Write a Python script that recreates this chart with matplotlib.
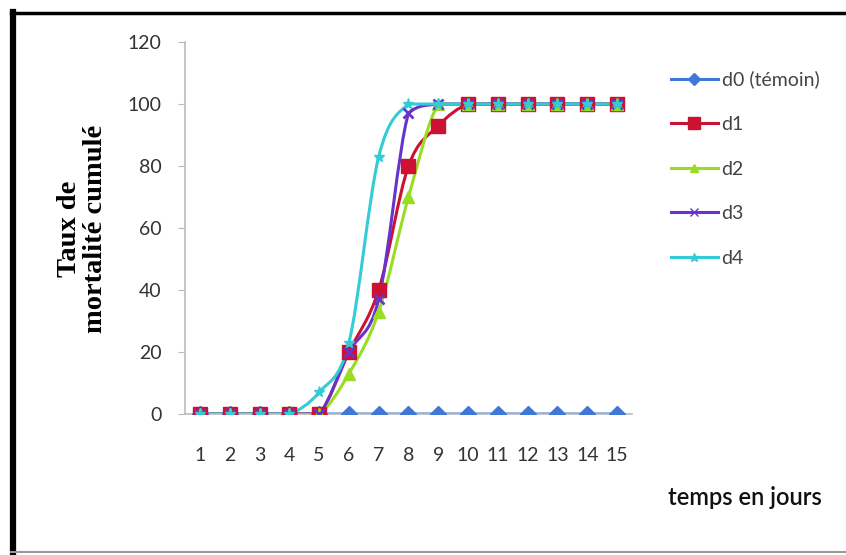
import matplotlib
matplotlib.use("Agg")
import matplotlib.pyplot as plt
from matplotlib.path import Path
from matplotlib.patches import PathPatch
from matplotlib.lines import Line2D
import numpy as np

days = list(range(1, 16))
series_names = ["d0 (témoin)", "d1", "d2", "d3", "d4"]
d0 = [0, 0, 0, 0, 0, 0, 0, 0, 0, 0, 0, 0, 0, 0, 0]
d1 = [0, 0, 0, 0, 0, 20, 40, 80, 93, 100, 100, 100, 100, 100, 100]
d2 = [0, 0, 0, 0, 0, 13, 33, 70, 100, 100, 100, 100, 100, 100, 100]
d3 = [0, 0, 0, 0, 0, 20, 37, 97, 100, 100, 100, 100, 100, 100, 100]
d4 = [0, 0, 0, 0, 7, 23, 83, 100, 100, 100, 100, 100, 100, 100, 100]
y_ticks = [0, 20, 40, 60, 80, 100, 120]

colors = ["#3F78D6", "#CC1133", "#99DD22", "#6633CC", "#33CCD6"]
markers = ["D", "s", "^", "x", "*"]
msizes = [8, 10, 8, 7, 8]

LABEL_FONT = ["Lato", "DejaVu Sans"]


def smooth_path(xs, ys):
    """Cubic Bezier path through the points, with control points kept inside
    each segment's vertical range so the curve does not overshoot."""
    pts = np.column_stack([xs, ys]).astype(float)
    n = len(pts)
    verts = [pts[0]]
    codes = [Path.MOVETO]
    for i in range(n - 1):
        p0 = pts[i - 1] if i > 0 else pts[i]
        p1 = pts[i]
        p2 = pts[i + 1]
        p3 = pts[i + 2] if i + 2 < n else pts[i + 1]
        c1 = p1 + (p2 - p0) / 6.0
        c2 = p2 - (p3 - p1) / 6.0
        lo, hi = min(p1[1], p2[1]), max(p1[1], p2[1])
        c1[1] = min(max(c1[1], lo), hi)
        c2[1] = min(max(c2[1], lo), hi)
        verts += [c1, c2, p2]
        codes += [Path.CURVE4] * 3
    return Path(verts, codes)


fig = plt.figure(figsize=(8.46, 5.55), dpi=100)
fig.patch.set_facecolor("white")
ax = fig.add_axes([0.2187, 0.254, 0.5283, 0.6703])

all_series = [d0, d1, d2, d3, d4]
handles = []
for name, vals, c, m, ms in zip(series_names, all_series, colors, markers, msizes):
    patch = PathPatch(smooth_path(days, vals), facecolor="none", edgecolor=c,
                      lw=2.2, zorder=2)
    ax.add_patch(patch)
    mew = 2 if m == "x" else 1
    ax.plot(days, vals, linestyle="none", marker=m, markersize=ms, color=c,
            markeredgecolor=c, markeredgewidth=mew, zorder=3)
    handles.append(Line2D([], [], color=c, lw=2.2, marker=m,
                          markersize=ms * 0.8, markeredgecolor=c))

ax.set_xlim(0.5, 15.5)
ax.set_ylim(0, 120)
ax.set_xticks(days)
ax.set_xticklabels([str(d) for d in days], fontfamily=LABEL_FONT, fontsize=14,
                   color="#333333")
ax.set_yticks(y_ticks)
ax.set_yticklabels([str(v) for v in y_ticks], fontfamily=LABEL_FONT, fontsize=14,
                   color="#333333")
ax.tick_params(axis="x", length=0, pad=24)
ax.tick_params(axis="y", length=5, color="#BBBBBB", pad=12)
for s in ["top", "right"]:
    ax.spines[s].set_visible(False)
ax.spines["left"].set_color("#BBBBBB")
ax.spines["bottom"].set_color("#BBBBBB")
ax.spines["left"].set_linewidth(1.2)
ax.spines["bottom"].set_linewidth(1.2)

fig.text(0.098, 0.588, "Taux de\nmortalité cumulé", rotation=90,
         ha="center", va="center", fontfamily="Liberation Serif",
         fontweight="bold", fontsize=20.5, linespacing=1.05)
fig.text(0.88, 0.104, "temps en jours", ha="center", va="center",
         fontfamily=LABEL_FONT, fontsize=17, fontweight="semibold",
         color="#111111")

leg = fig.legend(handles=handles, labels=series_names, loc="upper left",
                 bbox_to_anchor=(0.784, 0.887), frameon=False,
                 prop={"family": LABEL_FONT, "size": 14}, handlelength=2.4,
                 handletextpad=0.2, labelspacing=1.42, borderaxespad=0)
for t in leg.get_texts():
    t.set_color("#444444")

# chart frame
fig.add_artist(Line2D([0.0154, 0.0154], [0.0, 0.978], transform=fig.transFigure,
                      color="black", lw=4.5))
fig.add_artist(Line2D([0.0125, 1.0], [0.976, 0.976], transform=fig.transFigure,
                      color="black", lw=2.5))
fig.add_artist(Line2D([0.0125, 1.0], [0.006, 0.006], transform=fig.transFigure,
                      color="#999999", lw=1.5))

fig.savefig("out.png", dpi=100, facecolor="white")
